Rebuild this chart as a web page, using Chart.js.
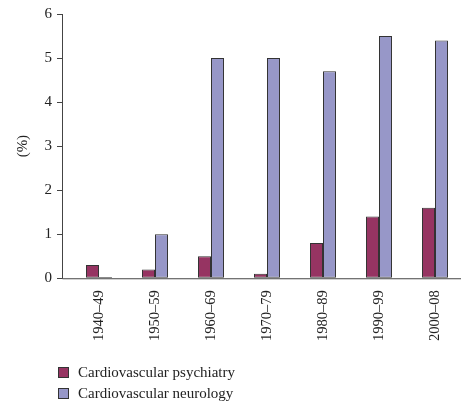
<!DOCTYPE html>
<html>
<head>
<meta charset="utf-8">
<script src="https://cdn.jsdelivr.net/npm/chart.js@4/dist/chart.umd.min.js"></script>
<style>
  html, body { margin: 0; padding: 0; background: #fff; }
  #wrap { position: relative; width: 473px; height: 411px; }
  #legend { position: absolute; left: 58px; top: 362px; font: 15px 'Liberation Serif', serif; color: #222; }
  #legend .row { display: flex; align-items: center; height: 21px; }
  #legend .box { width: 9px; height: 9px; border: 1px solid #333; margin-right: 9px; }
</style>
</head>
<body>
<div id="wrap">
  <canvas id="chart" width="473" height="411"></canvas>
  <div id="legend"></div>
</div>
<script>
'use strict';

// ── Data ──────────────────────────────────────────────
const decades    = ['1940–49', '1950–59', '1960–69', '1970–79', '1980–89', '1990–99', '2000–08'];
const psychiatry = [0.3, 0.2, 0.5, 0.1, 0.8, 1.4, 1.6];
const neurology  = [0.03, 1.0, 5.0, 5.0, 4.7, 5.5, 5.4];
const seriesNames  = ['Cardiovascular psychiatry', 'Cardiovascular neurology'];
const seriesColors = ['#963462', '#9797c8'];

const FONT = "'Liberation Serif', 'DejaVu Serif', serif";
const INK  = '#222';

// axis lines sit a little left of the first category (like the original figure)
const axisLines = {
  id: 'axisLines',
  afterDraw(chart) {
    const { ctx, chartArea: a, scales: { y } } = chart;
    const x0 = a.left - 9;
    ctx.save();
    ctx.strokeStyle = '#444';
    ctx.lineWidth = 1;
    ctx.beginPath();
    ctx.moveTo(x0 + 0.5, y.getPixelForValue(6));
    ctx.lineTo(x0 + 0.5, y.getPixelForValue(0) + 0.5);
    ctx.lineTo(a.right - 2, y.getPixelForValue(0) + 0.5);
    y.ticks.forEach(t => {
      const py = Math.round(y.getPixelForValue(t.value)) + 0.5;
      ctx.moveTo(x0 - 5, py);
      ctx.lineTo(x0 + 0.5, py);
    });
    ctx.stroke();
    ctx.restore();
  },
};

new Chart(document.getElementById('chart'), {
  type: 'bar',
  data: {
    labels: decades,
    datasets: [
      { label: seriesNames[0], data: psychiatry, backgroundColor: seriesColors[0] },
      { label: seriesNames[1], data: neurology,  backgroundColor: seriesColors[1] },
    ].map(d => ({ ...d, borderColor: '#333', borderWidth: 1, borderSkipped: false,
                  categoryPercentage: 0.464, barPercentage: 1 })),
  },
  options: {
    responsive: false,
    animation: false,
    layout: { padding: { top: 9, right: 10, left: 0, bottom: 66 } },
    plugins: { legend: { display: false }, tooltip: { enabled: false } },
    scales: {
      x: {
        grid: { display: false },
        border: { display: false },
        ticks: { color: INK, font: { family: FONT, size: 14.5 }, minRotation: 90, maxRotation: 90, padding: 4 },
      },
      y: {
        min: 0, max: 6,
        afterFit: s => { s.width = 71; },
        grid: { drawOnChartArea: false, color: 'rgba(0,0,0,0)', tickLength: 14 },
        border: { display: false },
        ticks: { stepSize: 1, color: INK, font: { family: FONT, size: 15 }, padding: 5 },
        title: { display: true, text: '(%)', color: INK, font: { family: FONT, size: 15 }, padding: { top: 14, bottom: 0 } },
      },
    },
  },
  plugins: [axisLines],
});

// ── HTML legend (stacked) ─────────────────────────────
document.getElementById('legend').innerHTML = seriesNames.map((n, i) =>
  `<div class="row"><span class="box" style="background:${seriesColors[i]}"></span>${n}</div>`).join('');
</script>
</body>
</html>
